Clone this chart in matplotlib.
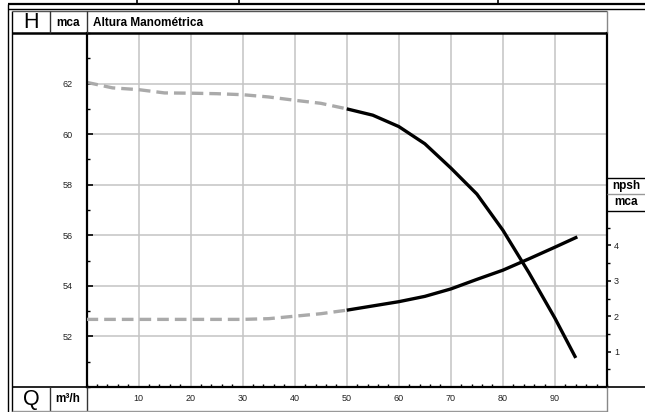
import matplotlib
matplotlib.use("Agg")
import matplotlib.pyplot as plt
from matplotlib.lines import Line2D
from matplotlib.ticker import MultipleLocator, FixedLocator

plt.rcParams['font.family'] = ['Liberation Sans', 'DejaVu Sans']

# flow (m3/h) and head (mca) - dashed = outside operating range
q_h_dashed = [0, 5, 10, 15, 20, 25, 30, 35, 40, 45, 50]
h_dashed = [62.05, 61.83, 61.76, 61.63, 61.62, 61.6, 61.56, 61.47, 61.34, 61.22, 61.0]
q_h_solid = [50, 55, 60, 65, 70, 75, 80, 85, 90, 94]
h_solid = [61.0, 60.75, 60.3, 59.62, 58.66, 57.63, 56.2, 54.52, 52.72, 51.15]

# npsh (mca)
q_npsh_dashed = [0, 10, 20, 30, 35, 40, 45, 50]
npsh_dashed = [1.91, 1.91, 1.91, 1.91, 1.93, 2.0, 2.07, 2.17]
q_npsh_solid = [50, 55, 60, 65, 70, 75, 80, 85, 90, 94.3]
npsh_solid = [2.17, 2.29, 2.41, 2.56, 2.77, 3.04, 3.3, 3.62, 3.95, 4.24]

x_ticks = [10, 20, 30, 40, 50, 60, 70, 80, 90]
h_ticks = [52, 54, 56, 58, 60, 62]
npsh_ticks = [1, 2, 3, 4]

W, H = 645, 412
fig = plt.figure(figsize=(W / 100, H / 100), dpi=100)


def fx(x):
    return x / W


def fy(y):
    return 1 - y / H


def hline(y, x0, x1, color='black', lw=1.0):
    fig.add_artist(Line2D([fx(x0), fx(x1)], [fy(y), fy(y)], transform=fig.transFigure,
                          color=color, lw=lw, solid_capstyle='butt'))


def vline(x, y0, y1, color='black', lw=1.0):
    fig.add_artist(Line2D([fx(x), fx(x)], [fy(y0), fy(y1)], transform=fig.transFigure,
                          color=color, lw=lw, solid_capstyle='butt'))


# plot area in pixels
L, R, T, B = 86.5, 607, 33, 387
ax = fig.add_axes([fx(L), fy(B), (R - L) / W, (B - T) / H])
ax.set_xlim(0, 100)
ax.set_ylim(50, 64)
ax.xaxis.set_major_locator(FixedLocator(x_ticks))
ax.xaxis.set_minor_locator(MultipleLocator(2))
ax.yaxis.set_major_locator(FixedLocator(h_ticks))
ax.yaxis.set_minor_locator(MultipleLocator(1))
ax.grid(True, which='major', color='#c4c4c4', lw=1.1)
ax.set_axisbelow(True)
ax.tick_params(axis='both', which='both', direction='in', labelsize=6.5, colors='black',
               labelcolor='#222222')
ax.tick_params(axis='both', which='major', length=4, width=1.2)
ax.tick_params(axis='both', which='minor', length=2.5, width=1)
ax.tick_params(axis='x', pad=5)
ax.tick_params(axis='y', pad=10)
ax.tick_params(axis='x', which='major', length=0)
for s in ['left', 'bottom']:
    ax.spines[s].set_linewidth(1.6)
ax.spines['top'].set_visible(False)
ax.spines['right'].set_visible(False)

ax.plot(q_h_dashed, h_dashed, color='#aaaaaa', lw=2.4, dashes=(3.5, 1.8))
ax.plot(q_h_solid, h_solid, color='black', lw=2.4, solid_capstyle='butt')

ax2 = ax.twinx()
ax2.set_ylim(0, 10)
ax2.yaxis.set_major_locator(FixedLocator(npsh_ticks))
ax2.yaxis.set_minor_locator(FixedLocator([0.5, 1.5, 2.5, 3.5, 4.5]))
ax2.tick_params(axis='y', which='both', direction='out', labelsize=6.5, labelcolor='#222222')
ax2.tick_params(axis='y', which='major', length=3, width=1.1, pad=2)
ax2.tick_params(axis='y', which='minor', length=2.5, width=1)
for s in ['left', 'bottom', 'top']:
    ax2.spines[s].set_visible(False)
ax2.spines['right'].set_linewidth(1.6)
ax2.plot(q_npsh_dashed, npsh_dashed, color='#aaaaaa', lw=2.4, dashes=(3.5, 1.8))
ax2.plot(q_npsh_solid, npsh_solid, color='black', lw=2.4, solid_capstyle='butt')

# frame and table lines
hline(4, 8, 645, lw=1.6)
hline(9, 8, 645, lw=1.0)
for x in [137, 239, 498]:
    vline(x, 0, 4, lw=1.2)
vline(7.5, 4, 412, lw=1.0)
vline(12, 11, 412, lw=1.0)
hline(11, 12, 607, color='#555555', lw=1.0)
vline(607, 11, 33, color='#888888', lw=1.0)
hline(T, 12, 607, lw=1.8)
vline(50, 11, 33, color='#333333', lw=1.0)
vline(86.5, 11, 33, color='#333333', lw=1.0)
hline(B, 12, 645, lw=1.2)
vline(50, B, 412, color='#333333', lw=1.0)
vline(86.5, B, 412, color='#333333', lw=1.0)
hline(410.5, 12, 607, color='#999999', lw=1.0)
vline(607, B, 412, color='#888888', lw=1.0)
hline(177.5, 607, 645, lw=1.0)
hline(193.5, 607, 645, color='#999999', lw=1.0)
hline(211, 607, 645, lw=1.0)

# labels
fig.text(fx(31), fy(22), 'H', fontsize=15.5, ha='center', va='center')
fig.text(fx(68), fy(22.5), 'mca', fontsize=8.5, fontweight='bold', ha='center', va='center')
fig.text(fx(93), fy(22.5), 'Altura Manométrica', fontsize=8.5, fontweight='bold',
         ha='left', va='center')
fig.text(fx(31), fy(399), 'Q', fontsize=15.5, ha='center', va='center')
fig.text(fx(68), fy(399.5), 'm³/h', fontsize=8.5, fontweight='bold', ha='center', va='center')
fig.text(fx(626), fy(186), 'npsh', fontsize=8.5, fontweight='bold', ha='center', va='center')
fig.text(fx(626), fy(202.5), 'mca', fontsize=8.5, fontweight='bold', ha='center', va='center')

fig.savefig('out.png', dpi=100)
